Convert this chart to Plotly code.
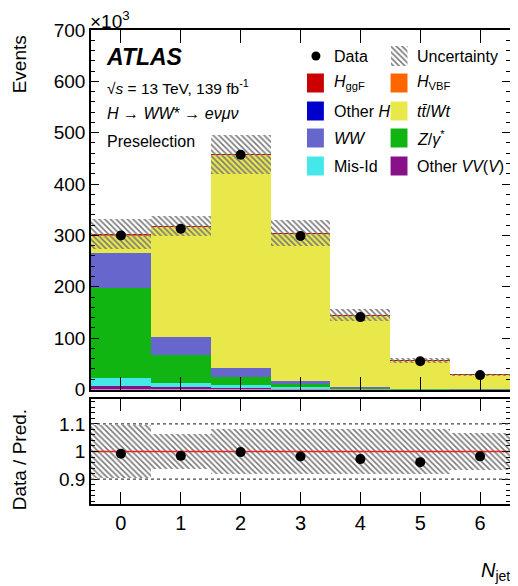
import numpy as np
import plotly.graph_objects as go

# ---------------- data (events in units of 10^3) ----------------
njet = [0, 1, 2, 3, 4, 5, 6]
tick_labels = ["0", "1", "2", "3", "4", "5", "6"]
other_vv = [6.5, 4.0, 3.0, 2.0, 1.0, 0.4, 0.2]
mis_id   = [15.0, 9.0, 5.0, 3.0, 1.0, 0.4, 0.2]
z_gamma  = [177.0, 54.0, 17.0, 5.0, 1.0, 0.3, 0.1]
ww       = [68.0, 35.0, 16.0, 6.0, 1.5, 0.4, 0.2]
top      = [34.0, 214.5, 416.0, 288.0, 140.0, 55.5, 27.6]
other_h  = [0.3, 0.2, 0.2, 0.1, 0.05, 0.02, 0.01]
h_vbf    = [0.1, 0.3, 0.3, 0.2, 0.1, 0.05, 0.03]
h_ggf    = [1.6, 1.0, 0.5, 0.2, 0.35, 0.13, 0.16]
data     = [300, 313, 457, 299, 141, 55, 28]
rel_unc  = [0.095, 0.063, 0.083, 0.083, 0.083, 0.083, 0.066]

y_ticks = [0, 100, 200, 300, 400, 500, 600, 700]
r_ticks = [0.9, 1.0, 1.1]
r_tick_labels = ["0.9", "1", "1.1"]

# ---------------- styling ----------------
FONT = "Liberation Sans, Arial, Helvetica, sans-serif"
COL = dict(
    vv="#881188", mis="#44E8E8", z="#11B511", ww="#6666CC",
    top="#E9E84A", oh="#0000CC", vbf="#FF6600", ggf="#CC0000",
)
HATCH = "#7a7a7a"

OFF = 8  # page body margin
W_FIG, H_FIG = 510, 578
L, R, T, B = 83, 6, 22, 82
PW, PH = W_FIG - L - R, H_FIG - T - B


def px2x(px):
    return (px - OFF - L) / PW


def py2y(py):
    return (OFF + H_FIG - B - py) / PH


stack = [
    ("Other VV", other_vv, COL["vv"]),
    ("Mis-Id", mis_id, COL["mis"]),
    ("Z", z_gamma, COL["z"]),
    ("WW", ww, COL["ww"]),
    ("top", top, COL["top"]),
    ("Other H", other_h, COL["oh"]),
    ("VBF", h_vbf, COL["vbf"]),
    ("ggF", h_ggf, COL["ggf"]),
]

fig = go.Figure()
base = np.zeros(len(njet))
for name, vals, c in stack:
    v = np.array(vals, dtype=float)
    fig.add_trace(go.Bar(
        x=njet, y=v, base=base.copy(), width=1.0, marker=dict(color=c, line=dict(width=0)),
        name=name, showlegend=False, xaxis="x", yaxis="y",
    ))
    base = base + v
total = base
unc = total * np.array(rel_unc)

pattern = dict(shape="\\", fgcolor=HATCH, bgcolor="rgba(0,0,0,0)", size=4, solidity=0.4,
               fillmode="replace")
fig.add_trace(go.Bar(
    x=njet, y=2 * unc, base=total - unc, width=1.0,
    marker=dict(color="rgba(0,0,0,0)", line=dict(width=0), pattern=pattern),
    showlegend=False, xaxis="x", yaxis="y",
))
fig.add_trace(go.Scatter(
    x=njet, y=data, mode="markers", marker=dict(color="black", size=10),
    showlegend=False, xaxis="x", yaxis="y",
))

# ratio panel
ratio = np.array(data) / total
rel = np.array(rel_unc)
fig.add_trace(go.Bar(
    x=njet, y=2 * rel, base=1 - rel, width=1.0,
    marker=dict(color="rgba(0,0,0,0)", line=dict(width=0), pattern=pattern),
    showlegend=False, xaxis="x2", yaxis="y2",
))
xr = [-0.5, 6.5]
fig.add_trace(go.Scatter(
    x=xr, y=[1, 1], mode="lines", line=dict(color="#EE2222", width=1.5),
    showlegend=False, xaxis="x2", yaxis="y2", hoverinfo="skip",
))
fig.add_trace(go.Scatter(
    x=njet, y=ratio, mode="markers", marker=dict(color="black", size=10),
    showlegend=False, xaxis="x2", yaxis="y2",
))

# legend hatch icon (tiny subplot)
fig.add_trace(go.Bar(
    x=[0], y=[1], width=1.0,
    marker=dict(color="rgba(0,0,0,0)", line=dict(width=0), pattern=pattern),
    showlegend=False, xaxis="x3", yaxis="y3",
))

axis_common = dict(
    showline=True, linecolor="black", linewidth=1.5, mirror="allticks",
    ticks="inside", tickcolor="black", showgrid=False, zeroline=False,
    tickfont=dict(family=FONT, size=19, color="black"),
)

shapes = []
for yv in (1.1, 0.9):
    shapes.append(dict(type="line", xref="x2", yref="y2", x0=xr[0], x1=xr[1], y0=yv, y1=yv,
                       line=dict(color="#444444", width=1.2, dash="dot"), layer="above"))

# legend
rows = [56, 83, 111, 138, 166]
c1_box, c2_box = (308, 325), (392, 409)
c1_txt, c2_txt = 333, 417
leg_items = [
    (1, 0, COL["ggf"], "<i>H</i><sub>ggF</sub>"),
    (1, 1, COL["vbf"], "<i>H</i><sub>VBF</sub>"),
    (2, 0, COL["oh"], "Other <i>H</i>"),
    (2, 1, COL["top"], "<i>t</i><i>t̄</i>/<i>Wt</i>"),
    (3, 0, COL["ww"], "<i>WW</i>"),
    (3, 1, COL["z"], "<i>Z</i>/<i>γ</i><sup>*</sup>"),
    (4, 0, COL["mis"], "Mis-Id"),
    (4, 1, COL["vv"], "Other <i>VV</i>(<i>V</i>)"),
]
annotations = []
for r, c, colr, label in leg_items:
    bx = c1_box if c == 0 else c2_box
    yc = rows[r]
    shapes.append(dict(type="rect", xref="paper", yref="paper",
                       x0=px2x(bx[0]), x1=px2x(bx[1]), y0=py2y(yc + 9.5), y1=py2y(yc - 9.5),
                       fillcolor=colr, line=dict(width=0)))
    annotations.append(dict(xref="paper", yref="paper", x=px2x(c1_txt if c == 0 else c2_txt),
                            y=py2y(yc), xanchor="left", yanchor="middle", showarrow=False,
                            text=label, font=dict(family=FONT, size=16, color="black")))
shapes.append(dict(type="circle", xref="paper", yref="paper", xsizemode="pixel", ysizemode="pixel",
                   xanchor=px2x(317), yanchor=py2y(rows[0]), x0=-4.5, x1=4.5, y0=-4.5, y1=4.5,
                   fillcolor="black", line=dict(width=0)))
annotations.append(dict(xref="paper", yref="paper", x=px2x(c1_txt), y=py2y(rows[0]),
                        xanchor="left", yanchor="middle", showarrow=False, text="Data",
                        font=dict(family=FONT, size=16, color="black")))
annotations.append(dict(xref="paper", yref="paper", x=px2x(c2_txt), y=py2y(rows[0]),
                        xanchor="left", yanchor="middle", showarrow=False, text="Uncertainty",
                        font=dict(family=FONT, size=16, color="black")))


def ann(x, y, text, size, xanchor="left", angle=0):
    annotations.append(dict(xref="paper", yref="paper", x=px2x(x), y=py2y(y), text=text,
                            xanchor=xanchor, yanchor="middle", showarrow=False, textangle=angle,
                            font=dict(family=FONT, size=size, color="black")))


ann(88, 20, "×10<sup>3</sup>", 19)
ann(19, 64, "Events", 19, xanchor="center", angle=-90)
ann(19, 460, "Data / Pred.", 19, xanchor="center", angle=-90)
ann(514, 571, "<i>N</i><sub>jet</sub>", 20, xanchor="right")
ann(104, 57, "<b><i>ATLAS</i></b>", 23)
ann(105, 87, "√<i>s</i> = 13 TeV, 139 fb<sup>-1</sup>", 15.5)
ann(105, 114, "<i>H</i> → <i>WW</i>* → <i>eνμν</i>", 16)
ann(105, 141, "Preselection", 16)

fig.update_layout(
    width=W_FIG, height=H_FIG, margin=dict(l=L, r=R, t=T, b=B),
    paper_bgcolor="white", plot_bgcolor="white", barmode="overlay", bargap=0,
    font=dict(family=FONT, color="black"),
    xaxis=dict(**axis_common, domain=[0, 1], range=xr, tickvals=njet, showticklabels=False,
               ticklen=13, anchor="y"),
    yaxis=dict(**axis_common, domain=[py2y(389.5), 1], range=[0, 700], tickvals=y_ticks,
               ticklen=8, anchor="x",
               minor=dict(ticks="inside", ticklen=4, dtick=20, tickcolor="black")),
    xaxis2=dict(**axis_common, domain=[0, 1], range=xr, tickvals=njet, ticktext=tick_labels,
                ticklen=12, anchor="y2"),
    yaxis2=dict(**axis_common, domain=[0, py2y(399)], range=[0.81, 1.19], tickvals=r_ticks,
                ticktext=r_tick_labels, ticklen=8, anchor="x2",
                minor=dict(ticks="inside", ticklen=4, dtick=0.02, tickcolor="black")),
    xaxis3=dict(domain=[px2x(392), px2x(409)], range=[-0.5, 0.5], visible=False, anchor="y3"),
    yaxis3=dict(domain=[py2y(rows[0] + 10), py2y(rows[0] - 10)], range=[0, 1], visible=False,
                anchor="x3"),
    shapes=shapes, annotations=annotations,
)
fig.update_xaxes(tickfont=dict(size=20), selector=dict(anchor="y2"))

fig.write_html("out.html")
